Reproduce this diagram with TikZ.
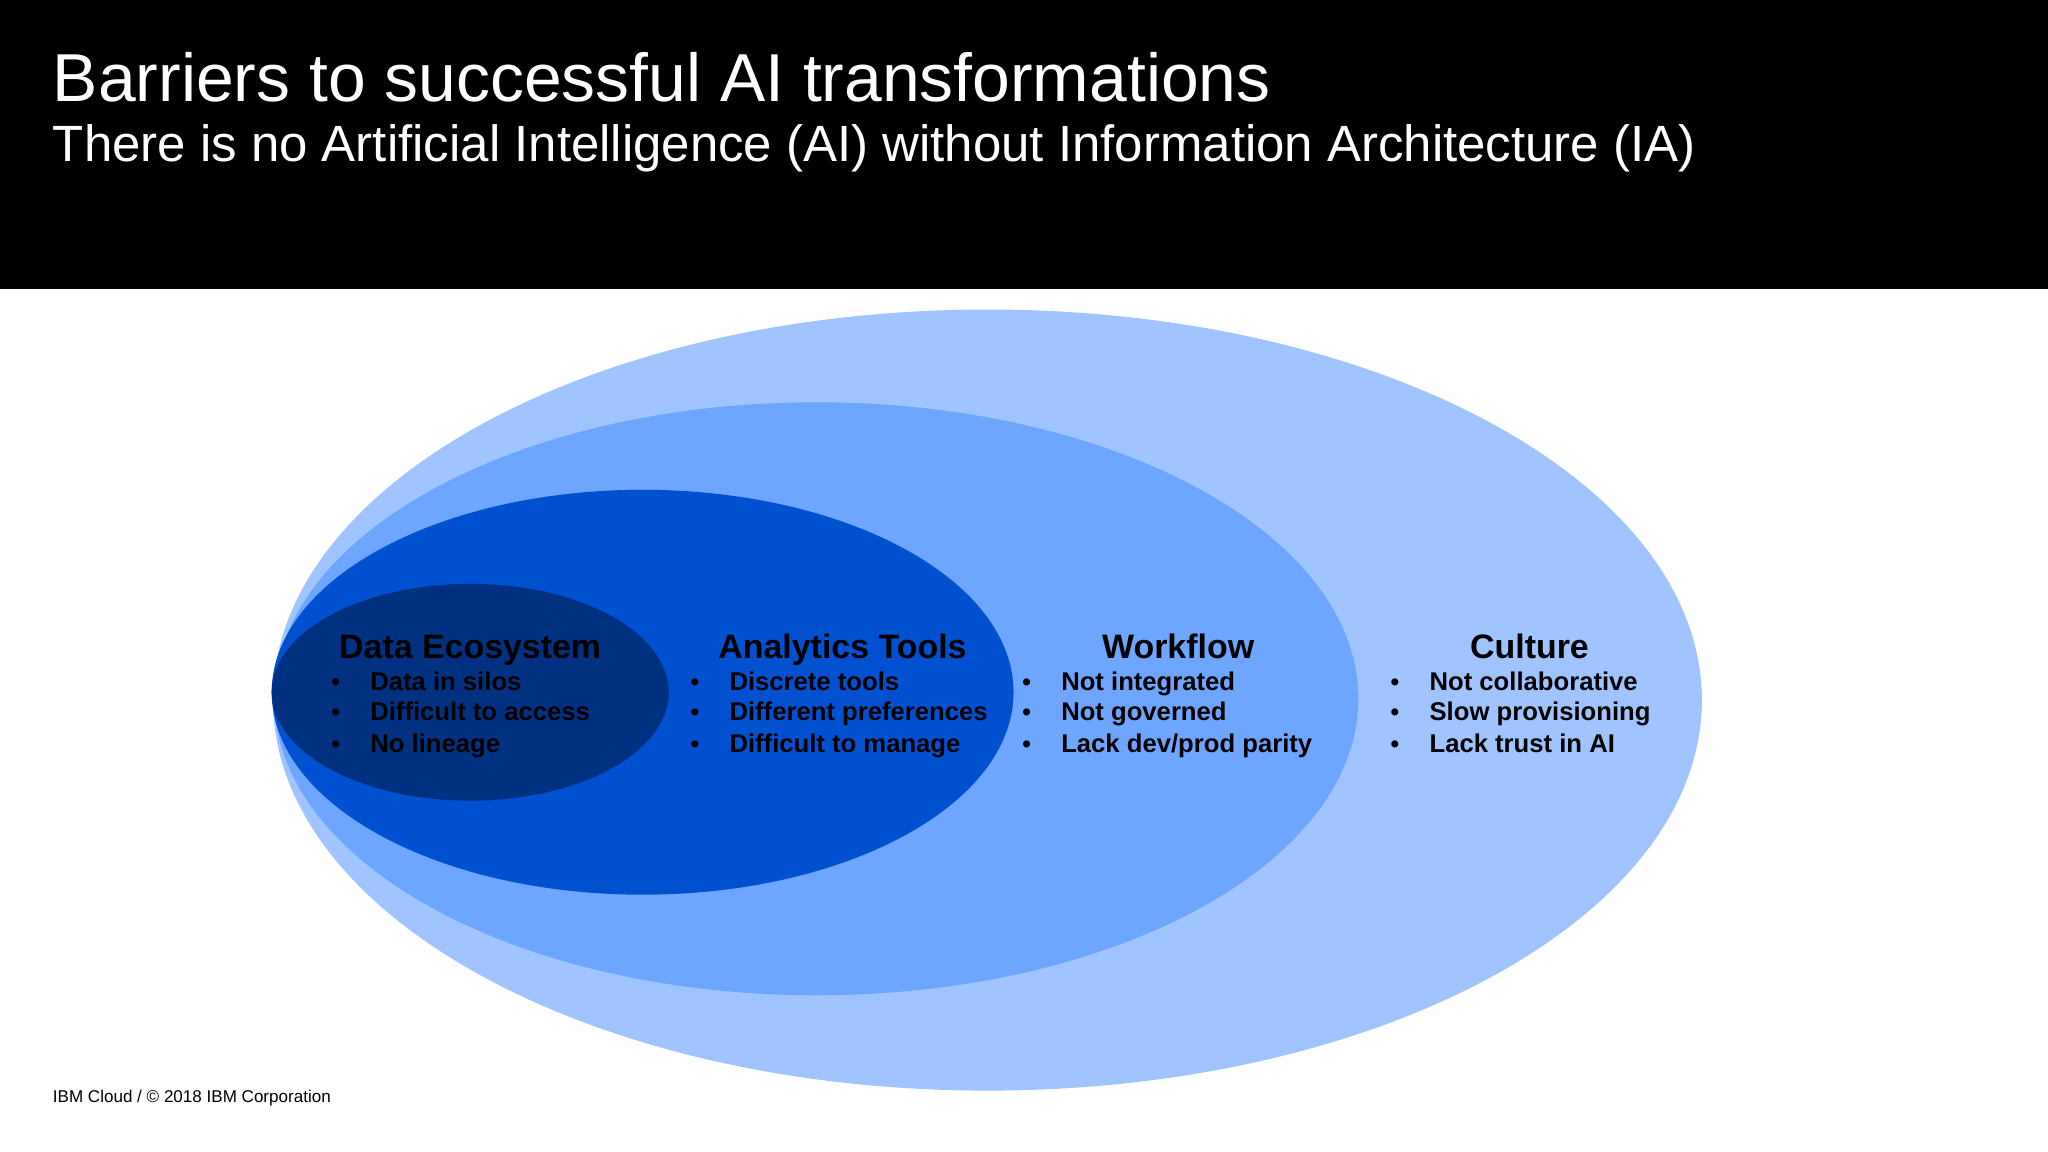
\documentclass[tikz,border=0pt]{standalone}
\usepackage{fontspec}
\setmainfont{Liberation Sans}
\definecolor{c1}{HTML}{A0C4FF}
\definecolor{c2}{HTML}{6EA6FF}
\definecolor{c3}{HTML}{0050D0}
\definecolor{c4}{HTML}{003080}
\begin{document}
\begin{tikzpicture}[x=0.013061cm,y=-0.013061cm,
  head/.style={font=\bfseries\fontsize{9.65}{12}\selectfont,anchor=base},
  item/.style={font=\bfseries\fontsize{7.3}{9}\selectfont,anchor=base west},
  dot/.style={font=\bfseries\fontsize{7}{9}\selectfont,anchor=base}]
\useasboundingbox (0,0) rectangle (1568,882);
\fill[white] (0,0) rectangle (1568,882);
\fill[black] (0,0) rectangle (1568,221);
\node[anchor=base west,white,font=\fontsize{19.3}{22}\selectfont,inner sep=0] (t) at (40,78) {Barriers to successful AI transformations};
\node[anchor=base west,white,font=\fontsize{14.5}{16}\selectfont,inner sep=0] (st) at (40,124) {There is no Artificial Intelligence (AI) without Information Architecture (IA)};
\fill[c1] (756,536) ellipse [x radius=547,y radius=299];
\fill[c2] (625,535) ellipse [x radius=415,y radius=227];
\fill[c3] (492,530) ellipse [x radius=284,y radius=155];
\fill[c4] (360,530) ellipse [x radius=152,y radius=83];
\foreach \n/\cx/\bx/\h/\a/\b/\c in {de/360/257/{Data Ecosystem}/{Data in silos}/{Difficult to access}/{No lineage},
  at/645/532/{Analytics Tools}/{Discrete tools}/{Different preferences}/{Difficult to manage},
  wf/902/786/{Workflow}/{Not integrated}/{Not governed}/{Lack dev{/}prod parity},
  cu/1171/1068/{Culture}/{Not collaborative}/{Slow provisioning}/{Lack trust in AI}}{
  \node[head,inner sep=0] (\n h) at (\cx,504) {\h};
  \node[dot,inner sep=0] (\n d1) at (\bx,529) {•};
  \node[dot,inner sep=0] (\n d2) at (\bx,552) {•};
  \node[dot,inner sep=0] (\n d3) at (\bx,576) {•};
  \node[item,inner sep=0] (\n 1) at (\bx+26,529) {\a};
  \node[item,inner sep=0] (\n 2) at (\bx+26,552) {\b};
  \node[item,inner sep=0] (\n 3) at (\bx+26,576) {\c};
}
\node[anchor=base west,inner sep=0,font=\fontsize{4.85}{6}\selectfont] (ft) at (40,844) {IBM Cloud / © 2018 IBM Corporation};
\end{tikzpicture}
\end{document}
